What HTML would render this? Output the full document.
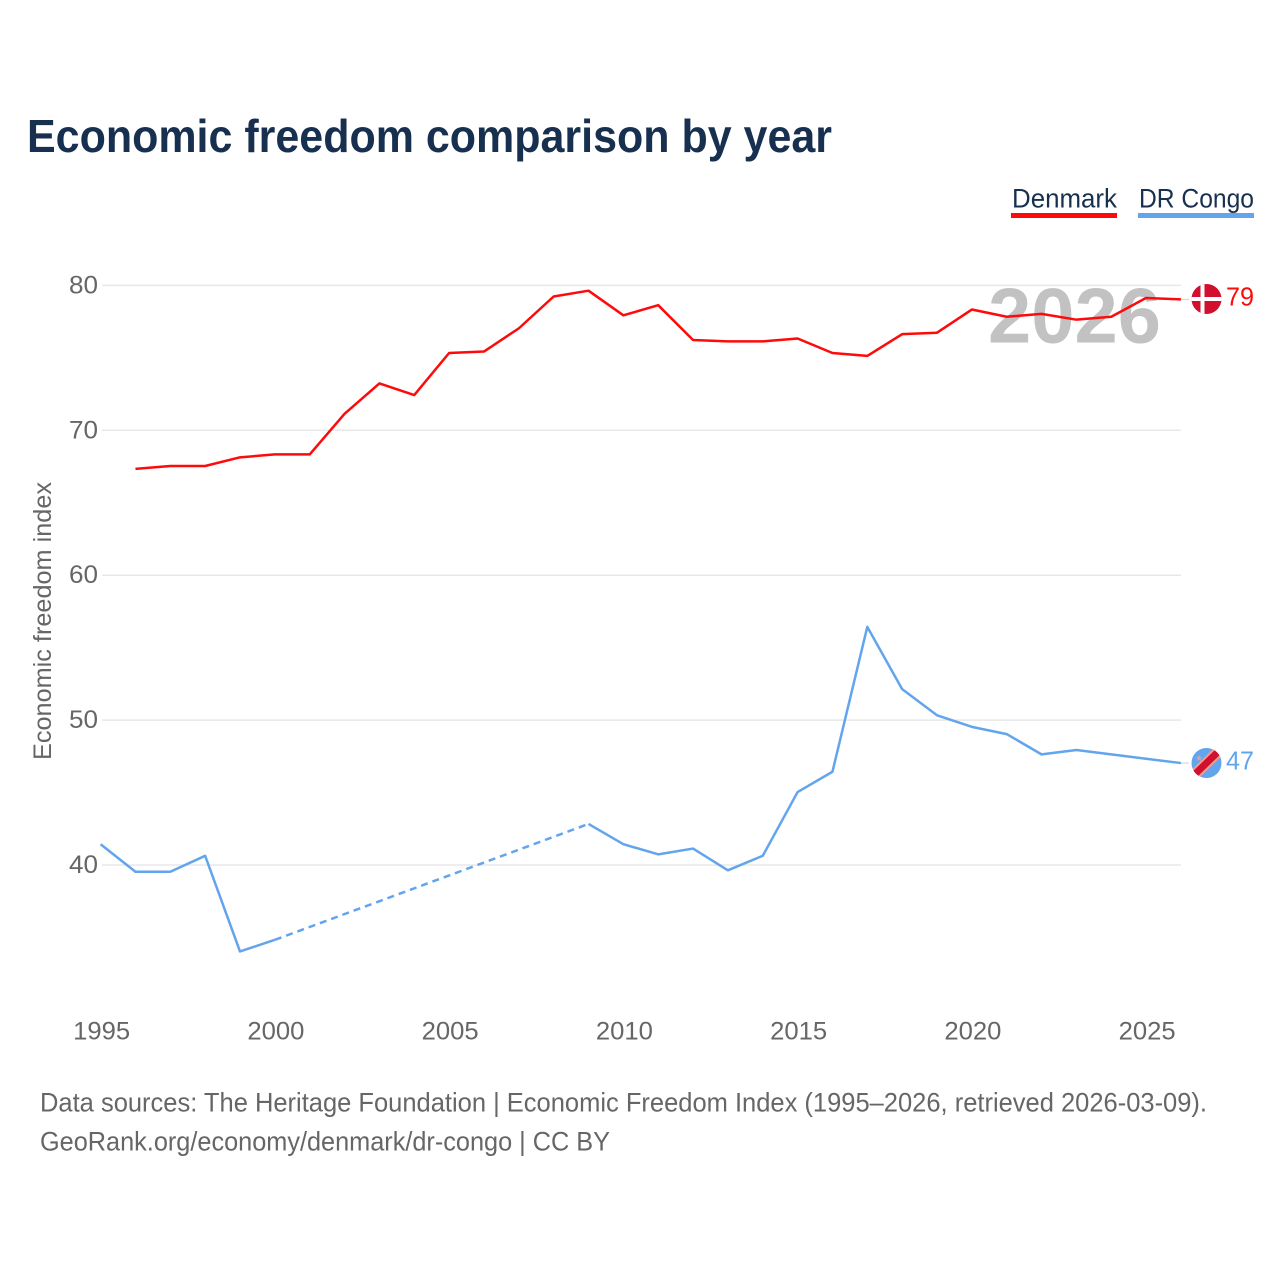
<!DOCTYPE html>
<html lang="en">
<head>
<meta charset="utf-8">
<title>Economic freedom comparison by year</title>
<style>
html,body{margin:0;padding:0;background:#fff;width:1280px;height:1280px;overflow:hidden}
svg{display:block}
text{font-family:"Liberation Sans",sans-serif}
</style>
</head>
<body>
<svg id="chart" xmlns="http://www.w3.org/2000/svg" width="1280" height="1280" viewBox="0 0 1280 1280">
  <rect width="1280" height="1280" fill="#ffffff"/>
  <text x="27" y="152" font-size="46" font-weight="700" fill="#18304f" textLength="805" lengthAdjust="spacingAndGlyphs">Economic freedom comparison by year</text>

  <g>
    <text x="1012" y="207.5" font-size="27" fill="#18304f" textLength="105" lengthAdjust="spacingAndGlyphs">Denmark</text>
    <rect x="1011" y="213" width="106" height="5" fill="#ff0a0a"/>
  </g>
  <g>
    <text x="1139" y="207.5" font-size="27" fill="#18304f" textLength="115" lengthAdjust="spacingAndGlyphs">DR Congo</text>
    <rect x="1138" y="213" width="116" height="5" fill="#63a5ec"/>
  </g>

  <g id="grid"></g>
  <text x="988" y="342.5" font-size="78" font-weight="700" fill="#c2c2c2" textLength="173" lengthAdjust="spacingAndGlyphs">2026</text>
  <g id="yticks"></g>
  <g id="xticks"></g>
  <text transform="translate(51,760) rotate(-90)" x="0" y="0" font-size="25" fill="#666666" textLength="278" lengthAdjust="spacingAndGlyphs">Economic freedom index</text>
  <g id="series"></g>

  <defs>
    <clipPath id="clip-dk"><circle cx="1206.5" cy="299" r="15"/></clipPath>
    <clipPath id="clip-cd"><circle cx="1206.5" cy="763" r="15"/></clipPath>
  </defs>
  <g clip-path="url(#clip-dk)">
    <rect x="1190" y="283" width="33" height="32" fill="#d20f2e"/>
    <rect x="1200.5" y="283" width="4" height="32" fill="#ffffff"/>
    <rect x="1190" y="297" width="33" height="4" fill="#ffffff"/>
  </g>
  <g clip-path="url(#clip-cd)">
    <rect x="1190" y="747" width="33" height="32" fill="#63a5ec"/>
    <line x1="1190" y1="779" x2="1223" y2="747" stroke="#f59a8f" stroke-width="11"/>
    <line x1="1190" y1="779" x2="1223" y2="747" stroke="#d20f2e" stroke-width="7"/>
    <text x="1195" y="761" font-size="9" fill="#f59a8f">★</text>
  </g>
  <text id="label-dk" x="1226" y="305.5" font-size="26" fill="#ff0a0a" textLength="28" lengthAdjust="spacingAndGlyphs"></text>
  <text id="label-cd" x="1226" y="769.5" font-size="26" fill="#63a5ec" textLength="28" lengthAdjust="spacingAndGlyphs"></text>

  <text x="40" y="1111.5" font-size="27" fill="#666666" textLength="1167" lengthAdjust="spacingAndGlyphs">Data sources: The Heritage Foundation | Economic Freedom Index (1995–2026, retrieved 2026-03-09).</text>
  <text x="40" y="1150.5" font-size="27" fill="#666666" textLength="570" lengthAdjust="spacingAndGlyphs">GeoRank.org/economy/denmark/dr-congo | CC BY</text>
</svg>
<script>
const years = [1995,1996,1997,1998,1999,2000,2001,2002,2003,2004,2005,2006,2007,2008,2009,2010,2011,2012,2013,2014,2015,2016,2017,2018,2019,2020,2021,2022,2023,2024,2025,2026];
const denmarkValues = [null,67.3,67.5,67.5,68.1,68.3,68.3,71.1,73.2,72.4,75.3,75.4,77.0,79.2,79.6,77.9,78.6,76.2,76.1,76.1,76.3,75.3,75.1,76.6,76.7,78.3,77.8,78.0,77.6,77.8,79.1,79.0];
const drCongoValues = [41.4,39.5,39.5,40.6,34.0,34.8,null,null,null,null,null,null,null,null,42.8,41.4,40.7,41.1,39.6,40.6,45.0,46.4,56.4,52.1,50.3,49.5,49.0,47.6,47.9,47.6,47.3,47.0];
const yTickValues = [40,50,60,70,80];
const xTickValues = [1995,2000,2005,2010,2015,2020,2025];
const endLabelDenmark = "79";
const endLabelDrCongo = "47";

const NS = "http://www.w3.org/2000/svg";
function xScale(year){ return 100.6 + (year - 1995) * 34.85; }
function yScale(v){ return 864.5 - (v - 40) * 14.49; }

function make(tag, attrs, parent){
  const el = document.createElementNS(NS, tag);
  for (const k in attrs) el.setAttribute(k, attrs[k]);
  parent.appendChild(el);
  return el;
}

const gridGroup = document.getElementById('grid');
const yGroup = document.getElementById('yticks');
yTickValues.forEach(function(v){
  const gy = yScale(v) + 0.5;
  const line = make('line', {x1:102, x2:1181, y1:gy, y2:gy, stroke:'#e8e8e8', 'stroke-width':1.5}, gridGroup);
  
  
  const t = make('text', {x:98, y:gy+8, 'text-anchor':'end', 'font-size':25, fill:'#666666', textLength:29, lengthAdjust:'spacingAndGlyphs'}, yGroup);
  
  
  t.textContent = v;
});

const xGroup = document.getElementById('xticks');
xTickValues.forEach(function(v){
  const t = make('text', {x:xScale(v)+1, y:1039.5, 'text-anchor':'middle', 'font-size':25, fill:'#666666', textLength:57, lengthAdjust:'spacingAndGlyphs'}, xGroup);
  
  
  t.textContent = v;
});

function drawSeries(values, color, name){
  const group = document.getElementById('series');
  const pts = [];
  values.forEach(function(v, i){ if (v !== null) pts.push([i, v]); });
  let d = '';
  let dash = '';
  for (let j = 0; j < pts.length; j++){
    const px = xScale(years[pts[j][0]]);
    const py = yScale(pts[j][1]);
    if (j === 0) { d += 'M' + px + ' ' + py; continue; }
    if (pts[j][0] - pts[j-1][0] > 1) {
      dash += 'M' + xScale(years[pts[j-1][0]]) + ' ' + yScale(pts[j-1][1]) + 'L' + px + ' ' + py;
      d += 'M' + px + ' ' + py;
    } else {
      d += 'L' + px + ' ' + py;
    }
  }
  const path = make('path', {d:d, fill:'none', stroke:color, 'stroke-width':2.5, 'stroke-linejoin':'round'}, group);
  
  
  if (dash) {
    const gap = make('path', {d:dash, fill:'none', stroke:color, 'stroke-width':2.5, 'stroke-dasharray':'7 5'}, group);
    
    
  }
  const last = pts[pts.length - 1];
  const connector = make('line', {x1:xScale(years[last[0]]), x2:1189, y1:yScale(last[1]), y2:yScale(last[1]), stroke:'#cfcfcf', 'stroke-width':1}, group);
  
  
}
drawSeries(denmarkValues, '#ff0a0a', 'denmark');
drawSeries(drCongoValues, '#63a5ec', 'dr-congo');

document.getElementById('label-dk').textContent = endLabelDenmark;
document.getElementById('label-cd').textContent = endLabelDrCongo;
</script>
</body>
</html>
